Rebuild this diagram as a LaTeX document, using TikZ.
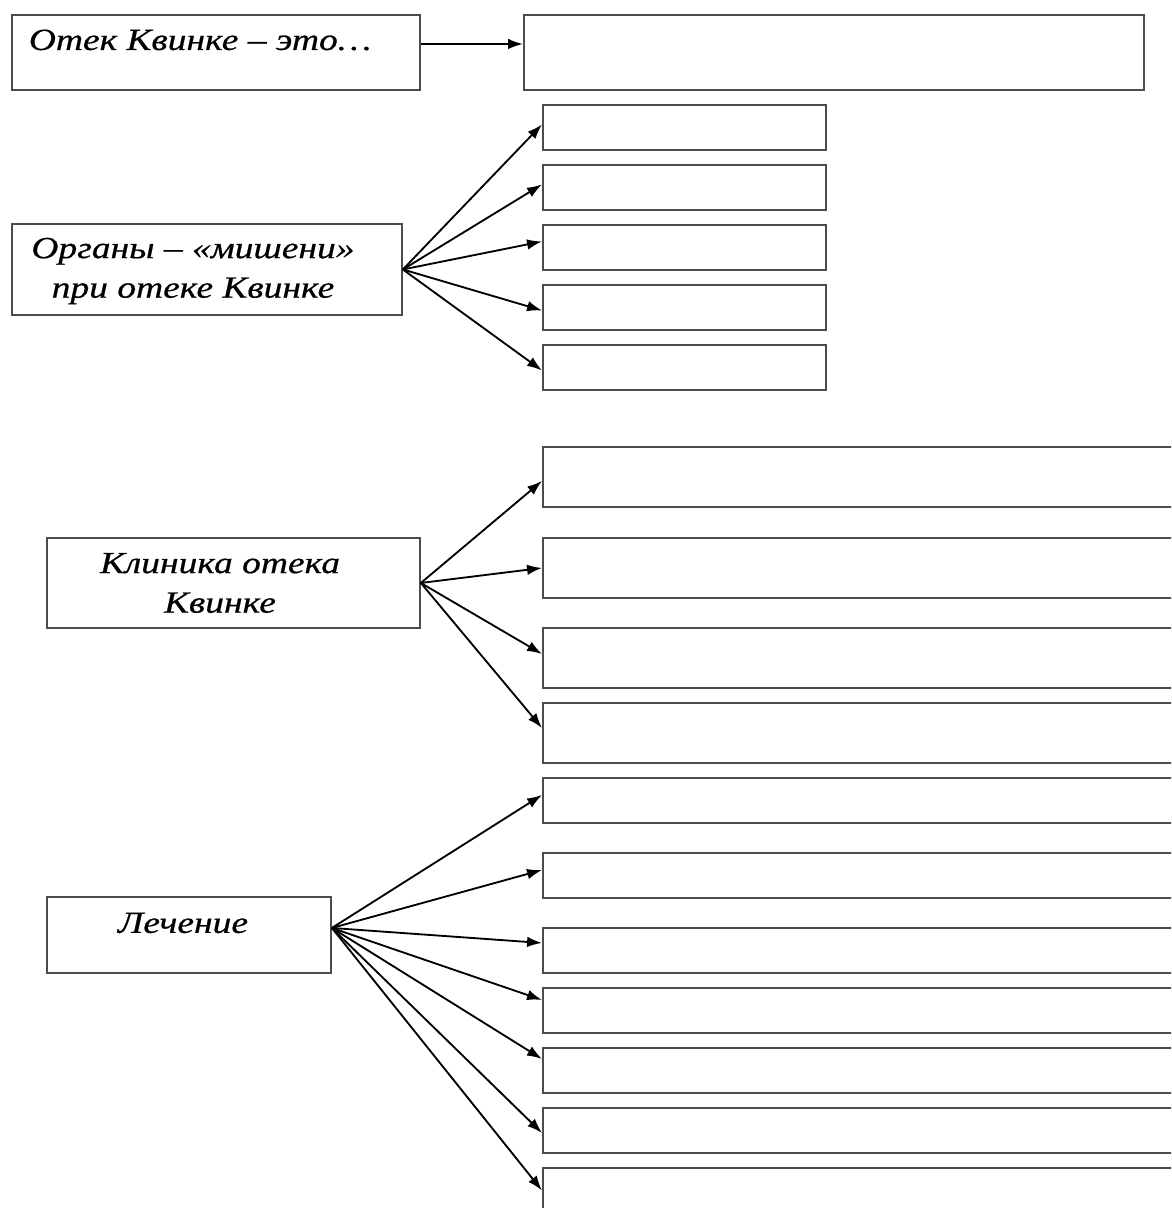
\documentclass[tikz,border=0pt]{standalone}
\usepackage{fontspec}
\setmainfont{Liberation Serif}
\newfontfamily\bookfont[FakeStretch=1.22,FakeBold=0.6]{Liberation Serif}
\usetikzlibrary{arrows.meta,calc}
\tikzset{
  box/.style={draw=black!70, line width=1.1pt, rectangle, inner sep=0pt, anchor=north west},
  txt/.style={font=\bookfont\itshape\fontsize{17.5}{22.5}\selectfont, align=center, inner sep=0pt},
  arr/.style={line width=1.05pt, -{Latex[length=8.5pt,width=6pt]}}
}
\begin{document}
\begin{tikzpicture}[x=0.02cm,y=-0.02cm]
\useasboundingbox (0,0) rectangle (1171,1208);
\clip (0,0) rectangle (1171,1208);
% top
\node[box, minimum width=8.16cm, minimum height=1.5cm] (def) at (11,14) {};
\node[txt] (deft) at (200,40) {Отек Квинке – это…};
\node[box, minimum width=12.4cm, minimum height=1.5cm] (defa) at (523,14) {};
\draw[arr] ($(def.east)+(0,-8.5)$) -- ($(defa.west)+(0,-8.5)$);
% organs
\node[box, minimum width=7.8cm, minimum height=1.82cm] (org) at (11,223) {};
\node[txt] (orgt) at (193,271) {Органы – «мишени»\\при отеке Квинке};
\foreach \i/\y/\o in {1/104/-3,2/164/-3,3/224/-6,4/284/3,5/344/3}{
  \node[box, minimum width=5.66cm, minimum height=0.9cm] (o\i) at (542,\y) {};
  \draw[arr] (org.east) -- ($(o\i.west)+(0,\o)$);
}
% clinic
\node[box, minimum width=7.46cm, minimum height=1.8cm] (cli) at (46,537) {};
\node[txt] (clit) at (220,583) {Клиника отека\\Квинке};
\foreach \i/\y/\o in {1/446/4,2/537/0,3/627/-4,4/702/-5}{
  \node[box, minimum width=13.4cm, minimum height=1.2cm] (c\i) at (542,\y) {};
  \draw[arr] (cli.east) -- ($(c\i.west)+(0,\o)$);
}
% treatment
\node[box, minimum width=5.68cm, minimum height=1.52cm] (tre) at (46,896) {};
\node[txt] (tret) at (183,923) {Лечение};
\foreach \i/\y/\o in {1/777/-5.5,2/852/-5.5,3/927/-7.5,4/987/-10.5,5/1047/-11.5,6/1107/2.5,7/1167/0}{
  \node[box, minimum width=13.4cm, minimum height=0.9cm] (t\i) at (542,\y) {};
  \draw[arr] ($(tre.east)+(0,-7)$) -- ($(t\i.west)+(0,\o)$);
}
\end{tikzpicture}
\end{document}
